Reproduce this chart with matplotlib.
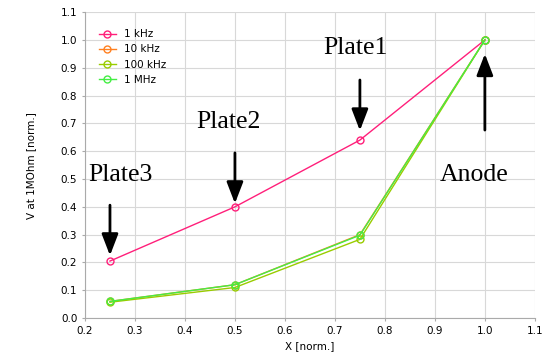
import matplotlib
matplotlib.use("Agg")
import matplotlib.pyplot as plt

x = [0.25, 0.5, 0.75, 1.0]
labels = ["1 kHz", "10 kHz", "100 kHz", "1 MHz"]
v_1khz = [0.205, 0.40, 0.64, 1.0]
v_10khz = [0.06, 0.12, 0.30, 1.0]
v_100khz = [0.057, 0.11, 0.283, 1.0]
v_1mhz = [0.06, 0.12, 0.298, 1.0]
series = [v_1khz, v_10khz, v_100khz, v_1mhz]
colors = ["#ff1f7a", "#ff8020", "#99cc00", "#44ee44"]

annots = ["Plate3", "Plate2", "Plate1", "Anode"]
annot_xy = [(0.27, 0.515), (0.487, 0.705), (0.742, 0.97), (0.978, 0.515)]
arrows = [((0.25, 0.406), (0.25, 0.225)), ((0.5, 0.594), (0.5, 0.412)),
          ((0.75, 0.856), (0.75, 0.674)), ((1.0, 0.676), (1.0, 0.95))]

fig = plt.figure(figsize=(5.43, 3.57), dpi=100)
ax = fig.add_axes([0.1565, 0.109, 0.8285, 0.857])

for s, c, lab in zip(series, colors, labels):
    ax.plot(x, s, color=c, lw=1.0, marker="o", markersize=5,
            markerfacecolor="none", markeredgecolor=c, markeredgewidth=1.0, label=lab)

for t, (tx, ty) in zip(annots, annot_xy):
    ax.text(tx, ty, t, fontsize=18.5, family="Liberation Serif", ha="center", va="center")

for (x0, y0), (x1, y1) in arrows:
    ax.annotate("", xy=(x1, y1), xytext=(x0, y0),
                arrowprops=dict(arrowstyle="-|>,head_width=0.5,head_length=1.3",
                                color="black", lw=2.0, shrinkA=0, shrinkB=0))

ax.set_xlim(0.2, 1.1)
ax.set_ylim(0.0, 1.1)
ax.set_xticks([0.2 + 0.1 * i for i in range(10)])
ax.set_yticks([0.1 * i for i in range(12)])
ax.set_xticklabels([f"{0.2 + 0.1 * i:.1f}" for i in range(10)])
ax.set_yticklabels([f"{0.1 * i:.1f}" for i in range(12)])
ax.tick_params(labelsize=7.5, length=2, color="#aaaaaa")
ax.grid(True, color="#d8d8d8", lw=0.8)
for sp in ["top", "right"]:
    ax.spines[sp].set_visible(False)
for sp in ["left", "bottom"]:
    ax.spines[sp].set_color("#aaaaaa")
ax.set_xlabel("X [norm.]", fontsize=7.5)
ax.set_ylabel("V at 1MOhm [norm.]", fontsize=7.5, labelpad=18)
ax.legend(loc="upper left", frameon=False, fontsize=7.5, handlelength=1.6,
          bbox_to_anchor=(0.01, 0.975), labelspacing=0.5)

fig.savefig("out.png", dpi=100)
